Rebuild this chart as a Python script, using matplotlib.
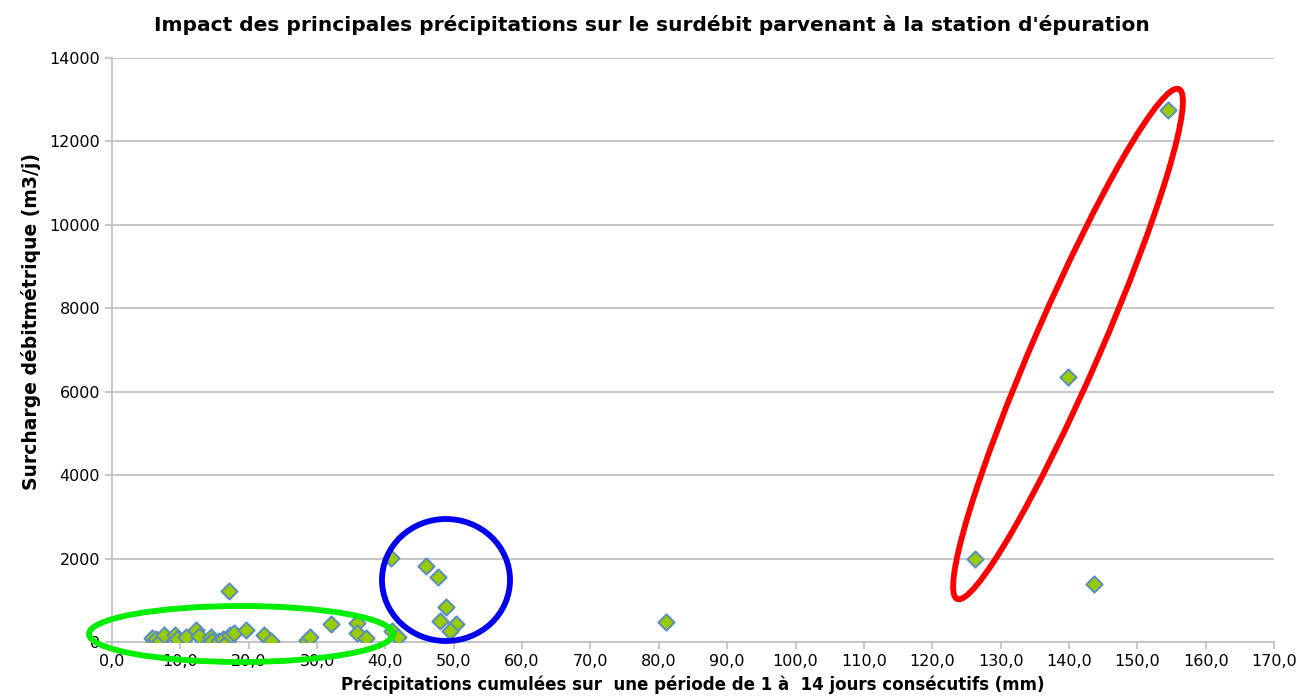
import matplotlib
matplotlib.use("Agg")
import matplotlib.pyplot as plt
from matplotlib.patches import Ellipse
from matplotlib.ticker import FuncFormatter

# precipitations cumulees (mm) et surcharge (m3/j)
pluie = [5.8, 6.1, 6.5, 7.0, 7.6, 9.2, 9.5, 10.8, 12.3, 12.7, 14.5, 14.7,
         15.7, 16.2, 16.8, 17.1, 17.3, 17.9, 19.6, 22.2, 23.3, 28.5, 29.0,
         32.0, 35.9, 35.9, 37.2, 40.9, 41.9,
         40.8, 45.9, 47.7, 48.9, 48.0, 50.4, 49.5,
         81.0, 126.2, 139.9, 143.6, 154.5]
surcharge = [90, 30, 60, 20, 170, 170, 65, 130, 290, 150, 130, 30,
             30, 65, 0, 1230, 170, 210, 290, 170, 20, 50, 130,
             430, 460, 210, 90, 270, 130,
             2020, 1830, 1550, 830, 500, 430, 270,
             480, 1990, 6350, 1390, 12750]

W, H = 1303, 699
fig = plt.figure(figsize=(W / 100, H / 100), dpi=100)
ax = fig.add_axes([112 / W, 1 - 642 / H, (1274 - 112) / W, (642 - 58) / H])

ax.scatter(pluie, surcharge, marker="D", s=68, c="#99CC00",
           edgecolors="#5B8BC4", linewidths=1.4, zorder=3)

ax.set_xlim(0, 170)
ax.set_ylim(0, 14000)
ax.set_xticks(range(0, 171, 10))
ax.set_yticks(range(0, 14001, 2000))
ax.xaxis.set_major_formatter(FuncFormatter(lambda v, p: ("%.1f" % v).replace(".", ",")))
ax.grid(axis="y", color="#BEBEBE", linewidth=1.2)
ax.set_axisbelow(True)
for s in ["top", "right"]:
    ax.spines[s].set_visible(False)
for s in ["left", "bottom"]:
    ax.spines[s].set_color("#BEBEBE")
    ax.spines[s].set_linewidth(1.2)
ax.tick_params(colors="#BEBEBE", labelcolor="black", labelsize=11.5, length=5, width=1.2)

fig.text(0.5, 1 - 25 / H, "Impact des principales précipitations sur le surdébit parvenant à la station d'épuration",
         fontsize=14.5, fontweight="bold", ha="center", va="center")
ax.set_xlabel("Précipitations cumulées sur  une période de 1 à  14 jours consécutifs (mm)",
              fontsize=12, fontweight="bold", labelpad=5)
ax.set_ylabel("Surcharge débitmétrique (m3/j)", fontsize=13.5, fontweight="bold")
ax.yaxis.set_label_coords(-0.061, 0.548)

# ellipses de repérage (coordonnées en pixels de l'image)
def ellipse(cx, cy, w, h, ang, col):
    e = Ellipse((cx / 100, (H - cy) / 100), w / 100, h / 100, angle=ang,
                transform=fig.dpi_scale_trans, fill=False, edgecolor=col,
                linewidth=4.2, zorder=5, clip_on=False)
    fig.add_artist(e)

ellipse(241, 634, 304, 56, 0, "#00EE00")
ellipse(446, 580, 128, 122, 0, "#0000EE")
ellipse(1068, 344, 556, 66, 66.5, "#FF0000")

fig.savefig("out.png", dpi=100)
